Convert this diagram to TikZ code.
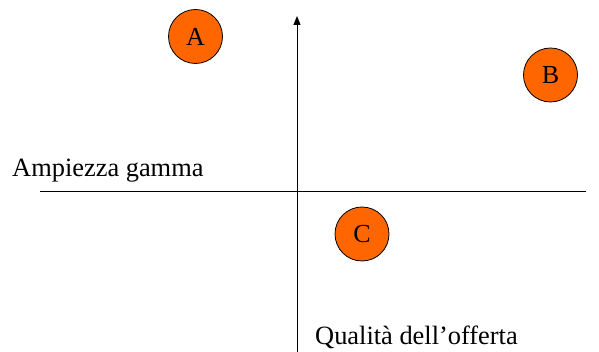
\documentclass[tikz,border=0pt]{standalone}
\usepackage{fontspec}
\setmainfont{Liberation Serif}
\usetikzlibrary{arrows.meta}
\definecolor{dotorange}{HTML}{FF6600}
\begin{document}
\begin{tikzpicture}[x=1pt,y=-1pt,
  dot/.style={circle,draw=black,line width=0.8pt,fill=dotorange,minimum size=54pt,inner sep=0pt,font=\fontsize{26}{30}\selectfont},
  lbl/.style={anchor=base west,inner sep=0pt,font=\fontsize{26.4}{30}\selectfont},
  axis/.style={line width=1pt,black}]
\useasboundingbox (0,0) rectangle (599,352);
\coordinate (yb) at (297,352);
\coordinate (yt) at (297,16);
\coordinate (xl) at (40,191.5);
\coordinate (xr) at (586,191.5);
\draw[axis] (xl) -- (xr);
\draw[axis,-{Triangle[length=9pt,width=7pt]}] (yb) -- (yt);
\node[dot] (A) at (195.5,36.5) {A};
\node[dot] (B) at (550.5,75) {B};
\node[dot] (C) at (362,234) {C};
\node[lbl] (amp) at (12,177) {Ampiezza gamma};
\node[lbl] (qual) at (315,344) {Qualità dell’offerta};
\end{tikzpicture}
\end{document}
